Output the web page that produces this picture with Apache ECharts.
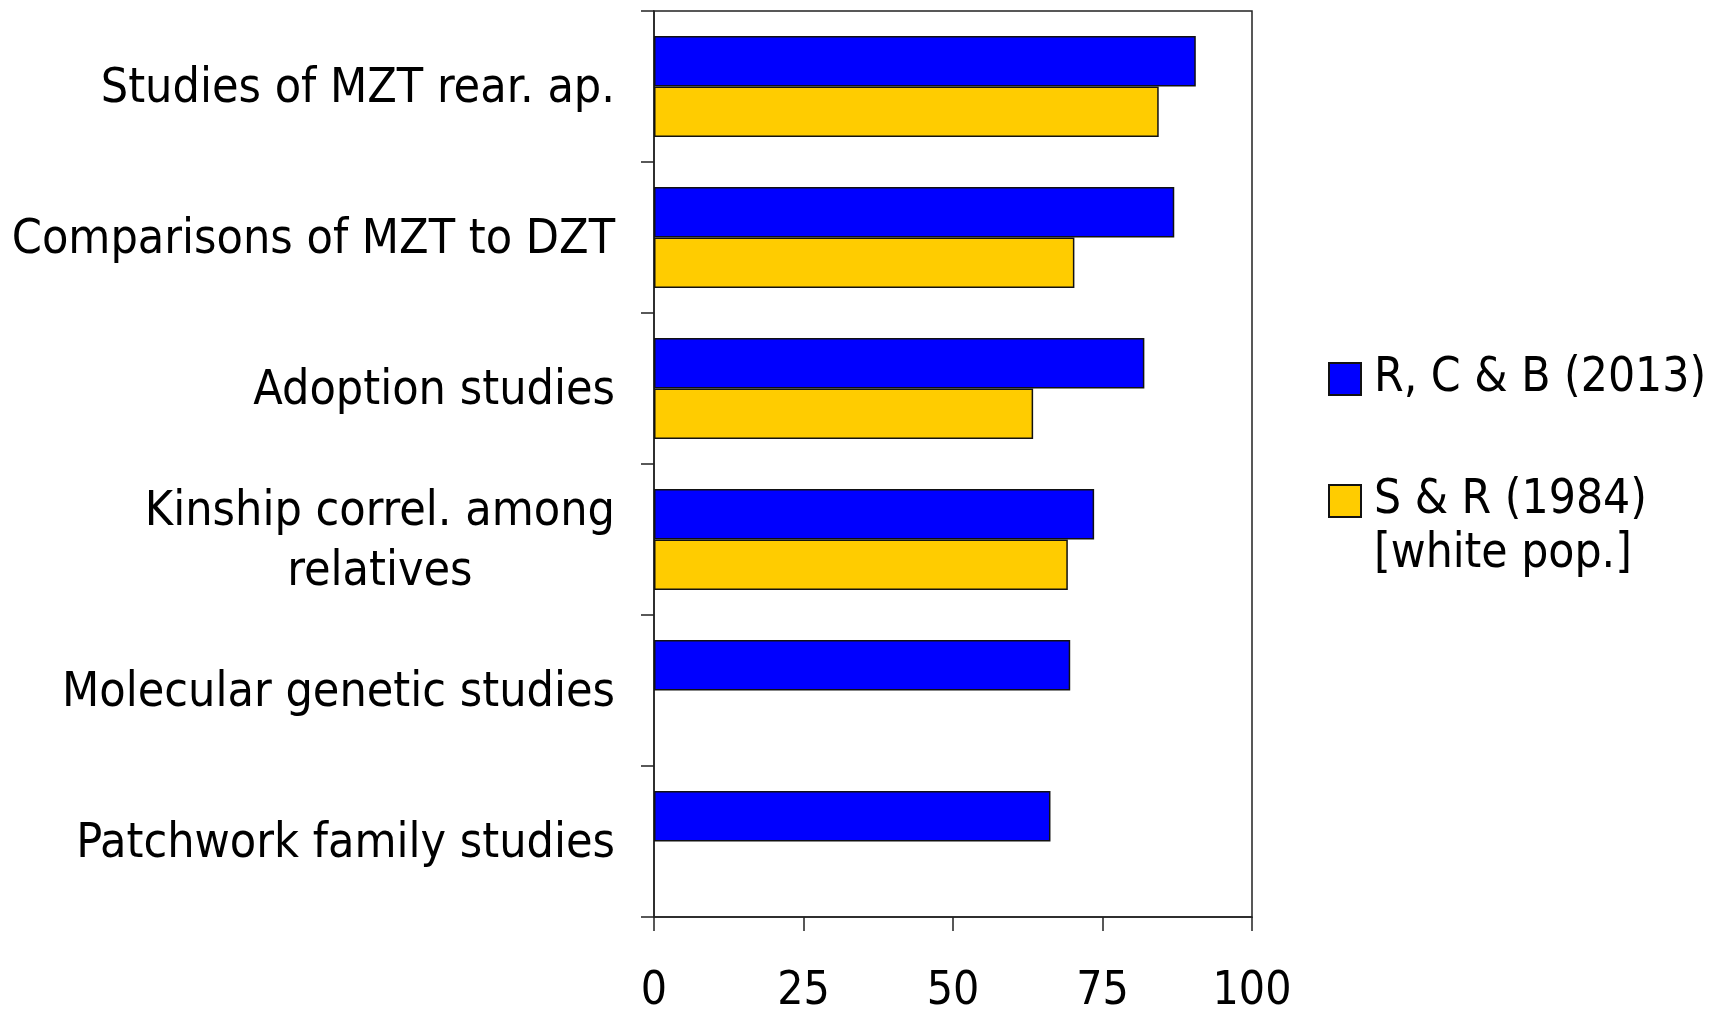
<!DOCTYPE html>
<html>
<head>
<meta charset="utf-8">
<script src="https://cdn.jsdelivr.net/npm/echarts@6/dist/echarts.min.js"></script>
<style>html,body{margin:0;padding:0;background:#fff;}#c{width:1718px;height:1011px;}</style>
</head>
<body>
<div id="c"></div>
<script>
var categories = ['Studies of MZT rear. ap.', 'Comparisons of MZT to DZT', 'Adoption studies', 'Kinship correl. among\nrelatives', 'Molecular genetic studies', 'Patchwork family studies'];
var seriesNames = ['R, C & B (2013)', 'S & R (1984)\n[white pop.]'];
var rcb2013 = [90.6, 87.0, 82.0, 73.6, 69.6, 66.3];
var sr1984 = [84.4, 70.3, 63.4, 69.2, null, null];
var xTicks = [0, 25, 50, 75, 100];

var FONT = 'DejaVu Sans Condensed';
var chart = echarts.init(document.getElementById('c'));
chart.setOption({
  animation: false,
  backgroundColor: '#fff',
  grid: { left: 654, right: 466, top: 11, bottom: 94, outerBoundsMode: 'none', containLabel: false, show: true, borderColor: '#222', borderWidth: 1.5, backgroundColor: 'transparent' },
  legend: {
    orient: 'vertical', left: 1323, top: 347, itemWidth: 32, itemHeight: 32, itemGap: 14,
    icon: 'rect',
    data: seriesNames,
    formatter: function (n) { return n.indexOf('\n') >= 0 ? '\n' + n : n; },
    textStyle: { fontFamily: FONT, fontSize: 47.5, color: '#000', lineHeight: 54, padding: [0, 0, 0, 8] }
  },
  xAxis: {
    type: 'value', min: xTicks[0], max: xTicks[xTicks.length - 1], interval: 25,
    axisLine: { show: true, lineStyle: { color: '#222', width: 1.5 } },
    axisTick: { show: true, length: 14, lineStyle: { color: '#222', width: 1.5 } },
    splitLine: { show: false },
    axisLabel: { fontFamily: FONT, fontSize: 46, color: '#000', margin: 52 }
  },
  yAxis: {
    type: 'category', data: categories, inverse: true,
    axisLine: { show: true, lineStyle: { color: '#222', width: 1.5 } },
    axisTick: { show: true, length: 13, lineStyle: { color: '#222', width: 1.5 } },
    axisLabel: {
      margin: 39,
      padding: [7, 0, 0, 0],
      formatter: function (v) { return v.split('\n').map(function (l) { return '{c|' + l + '}'; }).join('\n'); },
      rich: { c: { fontFamily: FONT, fontSize: 48, color: '#000', lineHeight: 60, align: 'center' } }
    }
  },
  series: [
    { name: seriesNames[0], type: 'bar', data: rcb2013, barGap: '0%', barCategoryGap: '33%',
      itemStyle: { color: '#0000FF', borderColor: '#111', borderWidth: 1.5 } },
    { name: seriesNames[1], type: 'bar', data: sr1984, barGap: '0%', barCategoryGap: '33%',
      itemStyle: { color: '#FFCC00', borderColor: '#111', borderWidth: 1.5 } }
  ]
});
</script>
</body>
</html>
